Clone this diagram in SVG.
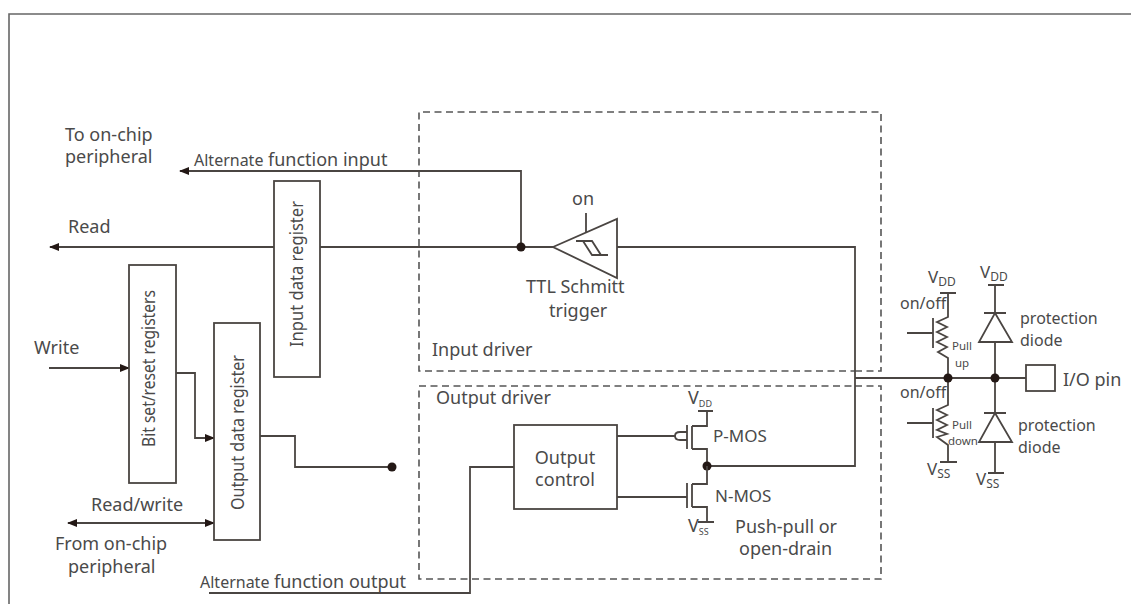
<svg xmlns="http://www.w3.org/2000/svg" width="1131" height="604" viewBox="0 0 1131 604">
<style>
text{font-family:"Noto Sans","Open Sans",sans-serif;font-size:18px;fill:#4a4a4a}
.m{font-size:17px}
.s{font-size:16px}
.xs{font-size:11.5px}
.sub{font-size:12px}
.tiny{font-size:9px}
.l{fill:none;stroke:#4a4542;stroke-width:1.8}
.b{fill:#fff;stroke:#4a4542;stroke-width:1.8}
.d{fill:none;stroke:#555;stroke-width:1.6;stroke-dasharray:7 4.5}
.dot{fill:#231815}
.a{fill:#231815}
</style>
<defs>
<marker id="arr" markerWidth="10" markerHeight="8" refX="9" refY="4" orient="auto-start-reverse" markerUnits="userSpaceOnUse"><path d="M0 0L10 4L0 8Z" class="a"/></marker>
</defs>
<path id="frame" d="M9 604V14H1131" fill="none" stroke="#666" stroke-width="1.6"/>
<g id="input-driver"><path class="d" d="M855 371H881V112H419V371H855"/><text x="432" y="356">Input driver</text></g>
<g id="output-driver"><path class="d" d="M855 386H881V579H419V386H855"/><text x="436" y="404">Output driver</text></g>
<g id="connectors">
<path class="l" d="M553 247H50" marker-end="url(#arr)"/>
<path class="l" d="M521 247V171H180" marker-end="url(#arr)"/>
<path class="l" d="M617 247H855V466H707"/>
<path class="l" d="M49 368H129" marker-end="url(#arr)"/>
<path class="l" d="M176 373H195V438H214" marker-end="url(#arr)"/>
<path class="l" d="M68 523H214" marker-start="url(#arr)" marker-end="url(#arr)"/>
<path class="l" d="M260 436H295V467H392"/>
<circle class="dot" cx="392" cy="467" r="4.5"/>
<circle class="dot" cx="521" cy="247" r="4.5"/>
<path class="l" d="M209 593H470V467H514"/>
<path class="l" d="M617 436H675M617 497H687"/>
<path class="l" d="M855 378H1026"/>
</g>
<g id="to-on-chip"><text x="65" y="141">To on-chip</text><text x="65" y="163">peripheral</text></g>
<g id="alt-in"><text x="194" y="166" class="s">Alternate</text><text x="268" y="166">function input</text></g>
<g id="read"><text x="68" y="233">Read</text></g>
<g id="write"><text x="34" y="354">Write</text></g>
<g id="read-write"><text x="91" y="511">Read/write</text></g>
<g id="from-on-chip"><text x="55" y="550">From on-chip</text><text x="68" y="573">peripheral</text></g>
<g id="alt-out"><text x="200" y="588" class="s">Alternate</text><text x="274" y="588">function output</text></g>
<g id="input-data-register"><rect class="b" x="274" y="181" width="46" height="196"/><text transform="translate(303 347) rotate(-90)" textLength="146" lengthAdjust="spacingAndGlyphs">Input data register</text></g>
<g id="bit-set-reset"><rect class="b" x="129" y="265" width="47" height="218"/><text transform="translate(155 447) rotate(-90)" textLength="157" lengthAdjust="spacingAndGlyphs">Bit set/reset registers</text></g>
<g id="output-data-register"><rect class="b" x="214" y="323" width="46" height="217"/><text transform="translate(244 510) rotate(-90)" textLength="155" lengthAdjust="spacingAndGlyphs">Output data register</text></g>
<g id="schmitt">
<path class="b" d="M553 247L617 219V278Z"/>
<path class="l" d="M586 213V232M576 241H592L601 255H608M583 241L592 255H601"/>
<text x="572" y="205">on</text>
<text x="526" y="293">TTL Schmitt</text>
<text x="549" y="317">trigger</text>
</g>
<g id="output-control"><rect class="b" x="514" y="425" width="103" height="84"/><text x="565" y="464" text-anchor="middle">Output</text><text x="565" y="486" text-anchor="middle">control</text></g>
<g id="p-mos">
<path class="l" d="M687 425V449M692 426V449M692 426H707V411M698 411H713M692 449H707V466"/>
<path class="l" d="M687 432H680Q675 432 675 436Q675 440 680 440H687" stroke-width="1.4"/>
<text x="713" y="442" class="m">P-MOS</text>
<text x="688" y="404">V<tspan class="tiny" dy="3">DD</tspan></text>
</g>
<circle class="dot" cx="707" cy="466" r="4.5"/>
<g id="n-mos">
<path class="l" d="M687 483V508M692 484V507M692 484H707V466M692 507H707V522M698 522H714"/>
<text x="715" y="502" class="m">N-MOS</text>
<text x="688" y="532">V<tspan class="tiny" dy="3">SS</tspan></text>
<text x="735" y="533">Push-pull or</text>
<text x="739" y="555">open-drain</text>
</g>
<g id="pull-up">
<path class="l" d="M940 293H956M948 293V317L937 322L947 327L937 332L947 337L937 342L947 347L938 352L948 358V378M933 318V348M907 333H933"/>
<text x="928" y="283" class="m">V<tspan class="sub" dy="3">DD</tspan></text>
<text x="900" y="309" class="s">on/off</text>
<text x="952" y="350" class="xs">Pull</text>
<text x="955" y="367" class="xs">up</text>
</g>
<g id="pull-down">
<path class="l" d="M948 378V405L937 410L947 415L937 420L947 425L937 430L947 434L937 437L948 445V462M933 408V438M907 423H933M940 462H957"/>
<text x="927" y="475" class="m">V<tspan class="sub" dy="3">SS</tspan></text>
<text x="900" y="398" class="s">on/off</text>
<text x="952" y="429" class="xs">Pull</text>
<text x="948" y="445" class="xs">down</text>
</g>
<g id="protection-top">
<path class="l" d="M995 285V378M988 285H1004M984 313H1006"/>
<path class="b" d="M995 313L1012 342H979Z"/>
<text x="980" y="278" class="m">V<tspan class="sub" dy="3">DD</tspan></text>
<text x="1020" y="324" class="s">protection</text>
<text x="1020" y="346" class="s">diode</text>
</g>
<g id="protection-bottom">
<path class="l" d="M995 378V473M988 473H1004M984 413H1006"/>
<path class="b" d="M995 413L1012 442H979Z"/>
<text x="976" y="485" class="m">V<tspan class="sub" dy="3">SS</tspan></text>
<text x="1018" y="431" class="s">protection</text>
<text x="1018" y="453" class="s">diode</text>
</g>
<circle class="dot" cx="948" cy="378" r="4.5"/>
<circle class="dot" cx="995" cy="378" r="4.5"/>
<g id="io-pin"><rect class="b" x="1026" y="365" width="29" height="26"/><text x="1063" y="386">I/O pin</text></g>
</svg>
